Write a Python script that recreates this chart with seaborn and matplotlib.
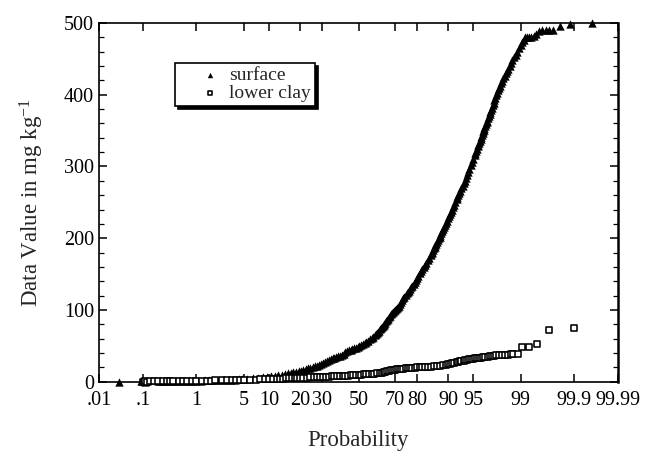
import numpy as np
import matplotlib
matplotlib.use("Agg")
import matplotlib.pyplot as plt
import seaborn as sns
from matplotlib.ticker import FixedLocator, FixedFormatter, MultipleLocator, NullLocator
from statistics import NormalDist

# probability axis ticks
tick_pct = [0.01, 0.1, 1, 5, 10, 20, 30, 50, 70, 80, 90, 95, 99, 99.9, 99.99]
tick_labels = [".01", ".1", "1", "5", "10", "20", "30", "50", "70", "80", "90", "95", "99", "99.9", "99.99"]

# surface: cumulative probability (%) and value (mg/kg)
surface_pct = [0.03, 0.09, 0.1, 0.11, 0.12, 0.2, 0.22, 0.25, 0.28, 0.3,
               0.35, 0.4, 0.45, 0.5, 0.6, 0.7, 0.8, 0.9, 1.0, 1.2,
               1.4, 1.6, 1.8, 2.0, 2.3, 2.6, 3.0, 3.4, 3.8, 4.3,
               4.8, 5.5, 6.5, 7.5, 8.5, 9.5, 10.5, 11.5, 12.5, 13.5,
               14.5, 15.5, 16.5, 17.5, 18.5, 19.5, 20.5, 21.5, 22.5, 23.5,
               24.5, 25.5, 26.5, 27.5, 28.5, 29.5, 30.5, 31.5, 32.5, 33.5,
               34.5, 35.5, 36.5, 37.5, 38.5, 39.5, 40.5, 41.5, 42.5, 43.5,
               44.5, 45.5, 46.5, 47.5, 48.5, 49.5, 50.5, 51.5, 52.5, 53.5,
               54.5, 55.5, 56.5, 57.5, 58.5, 59.5, 60, 60.5, 61, 61.5,
               62, 62.5, 63, 63.5, 64, 64.5, 65, 65.5, 66, 66.5,
               67, 67.5, 68, 68.5, 69, 69.5, 70, 70.5, 71, 71.5,
               72, 72.5, 73, 73.5, 74, 74.5, 75, 75.5, 76, 76.5,
               77, 77.5, 78, 78.5, 79, 79.5, 80, 80.5, 81, 81.5,
               82, 82.5, 83, 83.5, 84, 84.5, 85, 85.25, 85.5, 85.75,
               86, 86.25, 86.5, 86.75, 87, 87.25, 87.5, 87.75, 88, 88.25,
               88.5, 88.75, 89, 89.25, 89.5, 89.75, 90, 90.25, 90.5, 90.75,
               91, 91.25, 91.5, 91.75, 92, 92.2, 92.4, 92.6, 92.8, 93,
               93.2, 93.4, 93.6, 93.8, 94, 94.2, 94.4, 94.6, 94.8, 95,
               95.2, 95.3, 95.4, 95.5, 95.6, 95.7, 95.8, 95.9, 96.0, 96.08,
               96.15, 96.23, 96.3, 96.38, 96.45, 96.53, 96.6, 96.68, 96.75, 96.83,
               96.9, 96.98, 97.05, 97.13, 97.2, 97.28, 97.35, 97.43, 97.5, 97.58,
               97.65, 97.73, 97.8, 97.88, 97.95, 98.03, 98.1, 98.18, 98.25, 98.33,
               98.4, 98.48, 98.55, 98.63, 98.7, 98.78, 98.85, 98.93, 99.0, 99.05,
               99.1, 99.15, 99.2, 99.27, 99.34, 99.41, 99.46, 99.52, 99.58, 99.64,
               99.69, 99.74, 99.81, 99.88, 99.96]
surface_val = [0, 0.5, 1, 0, 0.5, 0.3, 0.8, 0.5, 1, 0.6,
               1, 0.8, 1.2, 1, 1.3, 1.1, 1.5, 1.3, 1.6, 1.5,
               1.8, 1.7, 2, 2, 2.2, 2.4, 2.5, 2.8, 3, 3.3,
               3.5, 3.8, 4.5, 5.2, 6, 7, 7.8, 8.5, 9.2, 10,
               10.5, 11.5, 12.3, 13.1, 13.9, 14.6, 15.5, 16.5, 17.5, 18.5,
               19.5, 20.5, 21.5, 22.5, 23.5, 24.5, 25.8, 27.2, 28.5, 29.8,
               31.2, 32.5, 33.5, 34.5, 35.5, 36.5, 37.8, 39.2, 40.8, 42.2,
               43.5, 44.5, 45.5, 46.5, 47.5, 48.5, 49.5, 50.8, 52.2, 53.5,
               55, 57, 59, 61, 63, 65, 66, 67.5, 69, 71,
               73, 74.5, 76, 77.5, 79, 80.5, 82, 84, 86, 88,
               90, 92, 94, 95.5, 97, 98.5, 100, 101.5, 103, 104.5,
               106, 108.5, 111, 113.5, 116, 118.5, 121, 123, 125, 127,
               129, 131.5, 134, 136.5, 139, 142, 145, 148, 151, 154,
               157, 160, 163, 166, 169, 173, 177, 179, 181, 183.5,
               186, 188, 190, 192.5, 195, 197.5, 200, 202, 204, 207,
               210, 212.5, 215, 218, 221, 224.5, 228, 231, 234, 237,
               240, 243.5, 247, 250.5, 254, 257, 260, 263, 266, 269.5,
               273, 276.5, 280, 284, 288, 292.5, 297, 301.5, 306, 311,
               316, 319, 322, 325, 328, 330.5, 333, 336, 339, 341.5,
               344, 346.5, 349, 351.5, 354, 356.5, 359, 361.5, 364, 367,
               370, 373, 376, 379, 382, 385.5, 389, 392.5, 396, 399.5,
               403, 406, 409, 412.5, 416, 419.5, 423, 426.5, 430, 433,
               436, 440, 444, 448, 452, 456, 460, 464.5, 469, 473,
               477, 480, 480, 481, 481, 482, 485, 489, 490, 490,
               490, 490, 496, 498, 500]

# lower clay
clay_pct = [0.1, 0.105, 0.11, 0.12, 0.14, 0.17, 0.2, 0.25, 0.3, 0.35,
            0.4, 0.5, 0.6, 0.7, 0.85, 1, 1.25, 1.5, 1.75, 2,
            2.5, 3, 3.5, 4, 4.5, 5, 6, 7, 8, 9,
            10, 11, 12, 13, 14, 15, 16, 17, 18, 19,
            20, 21.5, 23, 24.5, 26, 27.5, 29, 30.5, 32, 33.5,
            35, 36.5, 38, 39.5, 41, 42.5, 44, 45.5, 47, 48.5,
            50, 51.5, 53, 54.5, 56, 57.5, 59, 60.5, 62, 63,
            64, 65, 66, 67, 68, 69, 70, 71, 72, 73,
            74, 75, 76, 77, 78, 79, 80, 81, 82, 83,
            84, 85, 86, 87, 88, 88.8, 89.5, 90, 90.5, 91,
            91.5, 92, 92.3, 92.7, 93, 93.4, 93.7, 94, 94.3, 94.6,
            94.9, 95.2, 95.5, 95.8, 96, 96.3, 96.5, 96.8, 97, 97.2,
            97.4, 97.6, 97.8, 98, 98.2, 98.4, 98.55, 98.68, 98.87, 99.03,
            99.27, 99.48, 99.69, 99.9]
clay_val = [0, 0, 0.3, 0, 0.5, 0.5, 0.6, 0.7, 0.8, 0.8,
            0.9, 1, 1, 1.1, 1.2, 1.3, 1.4, 1.5, 1.6, 1.7,
            1.8, 2, 2.2, 2.3, 2.5, 2.6, 2.8, 3, 3.2, 3.4,
            3.6, 3.8, 4, 4.2, 4.4, 4.6, 4.8, 4.9, 5.1, 5.2,
            5.4, 5.6, 5.8, 6, 6.2, 6.4, 6.6, 6.8, 7, 7.2,
            7.4, 7.6, 7.8, 8, 8.2, 8.4, 8.6, 8.8, 9.1, 9.3,
            9.6, 9.8, 10.1, 10.3, 10.6, 10.9, 11.3, 11.8, 12.3, 12.8,
            13.3, 13.9, 14.5, 15.1, 15.7, 16.3, 16.8, 17.2, 17.6, 18,
            18.3, 18.6, 18.9, 19.2, 19.4, 19.7, 19.9, 20.1, 20.3, 20.5,
            20.8, 21.1, 21.4, 21.8, 22.3, 22.9, 23.5, 24.1, 24.8, 25.5,
            26.3, 27, 27.6, 28.2, 28.8, 29.4, 30, 30.5, 31, 31.5,
            32, 32.4, 32.8, 33.2, 33.5, 34, 34.3, 34.8, 35.3, 35.8,
            36.3, 36.8, 37.2, 37.6, 37.8, 37.9, 38, 38.2, 39, 48,
            48, 52.5, 72, 74.4]

_nd = NormalDist()
_ppf = np.vectorize(_nd.inv_cdf, otypes=[float])
_cdf = np.vectorize(_nd.cdf, otypes=[float])


def prob_fwd(p):
    # percent -> standard normal quantile
    p = np.clip(np.asarray(p, dtype=float) / 100.0, 1e-9, 1 - 1e-9)
    return _ppf(p)


def prob_inv(z):
    return _cdf(np.asarray(z, dtype=float)) * 100.0


sns.set_style("ticks")
plt.rcParams["font.family"] = ["Liberation Serif", "DejaVu Serif"]
plt.rcParams["mathtext.fontset"] = "custom"
plt.rcParams["mathtext.rm"] = "Liberation Serif"
plt.rcParams["mathtext.default"] = "regular"

fig, ax = plt.subplots(figsize=(6.48, 4.53), dpi=100)
fig.subplots_adjust(left=99 / 648, right=618 / 648, top=1 - 23 / 453, bottom=1 - 381.7 / 453)

sns.scatterplot(x=surface_pct, y=surface_val, marker="^", color="black", s=36,
                linewidth=0, label="surface", ax=ax, clip_on=False, zorder=3)
sns.scatterplot(x=clay_pct, y=clay_val, marker="s", color="white", edgecolor="black",
                s=20, linewidth=1.15, label="lower clay", ax=ax, clip_on=False, zorder=3)

ax.set_xscale("function", functions=(prob_fwd, prob_inv))
ax.set_xlim(0.01, 99.99)
ax.set_ylim(0, 500)
ax.xaxis.set_major_locator(FixedLocator(tick_pct))
ax.xaxis.set_major_formatter(FixedFormatter(tick_labels))
ax.xaxis.set_minor_locator(NullLocator())
ax.yaxis.set_major_locator(MultipleLocator(100))
ax.yaxis.set_minor_locator(MultipleLocator(20))

ax.tick_params(which="both", direction="in", top=True, right=True, color="black",
               labelsize=14.5, labelcolor="black")
ax.tick_params(which="major", length=6, width=1.1)
ax.tick_params(which="minor", length=3.5, width=0.9)
ax.tick_params(axis="x", pad=7)
for side in ax.spines:
    ax.spines[side].set_linewidth(1.2)
    ax.spines[side].set_color("black")
ax.spines["right"].set_linewidth(1.8)

ax.set_xlabel("Probability", fontsize=16.5, labelpad=14)
ax.set_ylabel("Data Value in mg kg$^{-1}$", fontsize=16.5, labelpad=13)

leg = ax.legend(loc="upper left", bbox_to_anchor=(0.146, 0.889), borderaxespad=0,
                fontsize=14, frameon=True, fancybox=False, edgecolor="black",
                shadow={"ox": 2.5, "oy": -2.5, "facecolor": "black", "edgecolor": "black", "alpha": 1},
                borderpad=0.2, labelspacing=0.0, handlelength=3.2, handletextpad=-0.6,
                markerscale=0.65)
leg.get_frame().set_linewidth(1.2)
leg.get_frame().set_alpha(1)

fig.savefig("out.png", dpi=100)
